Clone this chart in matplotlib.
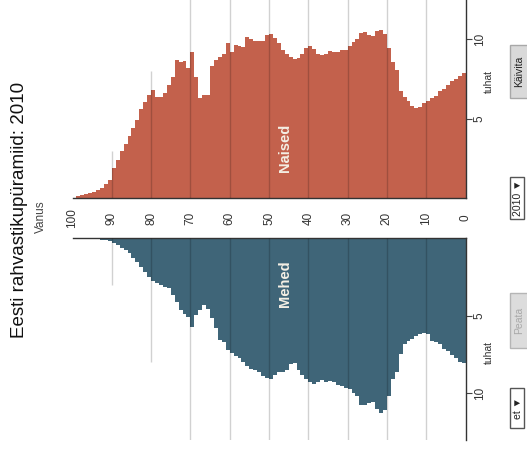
import matplotlib
matplotlib.use("Agg")
import matplotlib.pyplot as plt
import numpy as np
from matplotlib.patches import Rectangle
from matplotlib.transforms import blended_transform_factory

plt.rcParams["font.family"] = ["Liberation Sans", "DejaVu Sans"]

# population by single year of age (thousands), ages 0..99
ages = np.arange(100)
women = [7.85, 7.7, 7.5, 7.35, 7.1, 6.85, 6.75, 6.45, 6.3, 6.15,
         6.0, 5.75, 5.65, 5.8, 6.15, 6.35, 6.75, 8.05, 8.6, 9.45,
         10.35, 10.6, 10.5, 10.2, 10.25, 10.45, 10.4, 10.05, 9.85, 9.55,
         9.3, 9.3, 9.2, 9.2, 9.25, 9.1, 9.0, 9.1, 9.4, 9.55,
         9.45, 9.1, 8.8, 8.75, 8.9, 9.1, 9.3, 9.75, 10.1, 10.35,
         10.25, 9.9, 9.9, 9.9, 10.0, 10.15, 9.5, 9.6, 9.65, 9.2,
         9.75, 9.1, 8.9, 8.7, 8.3, 6.5, 6.5, 6.3, 7.65, 9.2,
         8.2, 8.65, 8.6, 8.7, 7.65, 7.1, 6.6, 6.35, 6.35, 6.8,
         6.5, 6.05, 5.6, 4.95, 4.45, 3.9, 3.4, 2.95, 2.4, 1.9,
         1.12, 0.9, 0.65, 0.5, 0.42, 0.35, 0.3, 0.2, 0.12, 0.05]
men = [8.05, 8.0, 7.75, 7.5, 7.3, 7.15, 6.8, 6.7, 6.6, 6.2,
       6.1, 6.15, 6.3, 6.5, 6.65, 6.8, 7.45, 8.6, 9.05, 10.2,
       11.1, 11.25, 11.0, 10.55, 10.6, 10.75, 10.75, 10.2, 9.95, 9.75,
       9.65, 9.55, 9.45, 9.3, 9.2, 9.3, 9.15, 9.3, 9.4, 9.25,
       9.1, 8.8, 8.5, 8.05, 8.1, 8.5, 8.65, 8.6, 8.85, 9.05,
       9.0, 8.9, 8.65, 8.5, 8.4, 8.25, 7.95, 7.75, 7.6, 7.4,
       7.2, 6.7, 6.55, 5.8, 5.15, 4.55, 4.3, 4.6, 4.95, 5.7,
       5.06, 4.9, 4.63, 4.09, 3.66, 3.23, 3.12, 3.0, 2.9, 2.75,
       2.48, 2.15, 1.83, 1.55, 1.29, 0.97, 0.75, 0.6, 0.43, 0.32,
       0.17, 0.12, 0.08, 0.06, 0.05, 0.04, 0.03, 0.02, 0.01, 0.01]

grid_ages = [10, 20, 30, 40, 50, 60, 70, 80, 90]
grid_len = [13, 13, 13, 13, 13, 13, 13, 8, 3]
age_labels = list(range(0, 101, 10))
pop_ticks = [5, 10]

c_women = "#c3614c"
c_men = "#3f6578"

W, H = 527, 454
fig = plt.figure(figsize=(W / 100, H / 100), dpi=100)


def rect(x0, y0, x1, y1):
    # pixel box (top-left origin) -> figure fraction
    return [x0 / W, 1 - y1 / H, (x1 - x0) / W, (y1 - y0) / H]


def fx(x):
    return x / W


def fy(y):
    return 1 - y / H


ax_w = fig.add_axes(rect(72.5, -8.4, 465.5, 198.3))
ax_m = fig.add_axes(rect(72.5, 238.3, 465.5, 439.8))

for ax, vals, col in [(ax_w, women, c_women), (ax_m, men, c_men)]:
    ax.stairs(vals, np.arange(101), fill=True, color=col, lw=0)
    ax.vlines(grid_ages, 0, grid_len, color="k", alpha=0.18, lw=1, zorder=3)
    ax.set_xlim(100, 0)
    ax.set_xticks([])
    ax.set_yticks(pop_ticks)
    ax.set_yticklabels([str(t) for t in pop_ticks])
    ax.yaxis.tick_right()
    ax.tick_params(axis="y", length=4, width=0.8, color="#444",
                   labelsize=8.5, labelcolor="#333", pad=2, labelrotation=90)
    for lab in ax.get_yticklabels():
        lab.set_va("center")
    ax.spines["left"].set_visible(False)
    for s in ax.spines.values():
        s.set_color("#333")
        s.set_linewidth(1)
    tr = blended_transform_factory(ax.transAxes, ax.transData)
    ax.text(1.06, 7.35, "tuhat", transform=tr, rotation=90, ha="center",
            va="center", fontsize=7.5, color="#333")

ax_w.set_ylim(0, 13)
ax_w.spines["top"].set_visible(False)
ax_m.set_ylim(13, 0)
ax_m.spines["bottom"].set_visible(False)

ax_w.text(46, 3.2, "Naised", rotation=90, ha="center", va="center",
          fontsize=10.5, fontweight="bold", color="#f4efe4")
ax_m.text(46, 2.9, "Mehed", rotation=90, ha="center", va="center",
          fontsize=10.5, fontweight="bold", color="#f4efe4")

for a in age_labels:
    ax_m.text(a, -1.3, str(a), rotation=90, ha="center", va="center",
              fontsize=8.5, color="#333", clip_on=False)

fig.text(fx(20), fy(210), "Eesti rahvastikupüramiid: 2010", rotation=90,
         ha="center", va="center", fontsize=13.5, color="#111")
fig.text(fx(41), fy(216.5), "Vanus", rotation=90, ha="center", va="center",
         fontsize=8.5, color="#444")

# control widgets along the bottom edge
widgets = [
    # (x0, y0, x1, y1, label, face, edge, text colour)
    (510, 45, 530, 98, "Käivita", "#d9d9d9", "#a8a8a8", "#222"),
    (510, 177, 524, 219, "2010 ▼", "white", "#555", "#222"),
    (510, 293, 530, 348, "Peata", "#dcdcdc", "#b5b5b5", "#a8a8a8"),
    (510, 388, 524, 428, "et ▼", "white", "#555", "#222"),
]
for x0, y0, x1, y1, lab, fc, ec, tc in widgets:
    fig.add_artist(Rectangle((fx(x0), fy(y1)), (x1 - x0) / W, (y1 - y0) / H,
                             transform=fig.transFigure, facecolor=fc,
                             edgecolor=ec, lw=1))
    fig.text(fx((x0 + min(x1, 527)) / 2 + 0.5), fy((y0 + y1) / 2), lab,
             rotation=90, ha="center", va="center", fontsize=7.5, color=tc)

fig.savefig("out.png", dpi=100, facecolor="white")
